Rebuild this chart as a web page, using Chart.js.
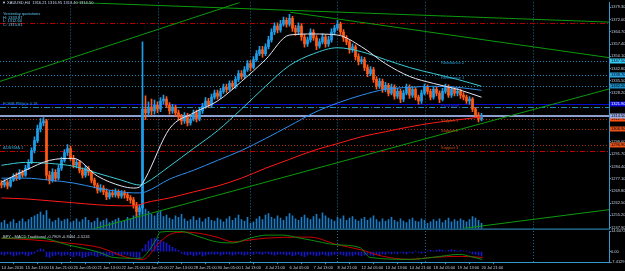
<!DOCTYPE html>
<html><head><meta charset="utf-8">
<script src="https://cdn.jsdelivr.net/npm/chart.js@4.4.1/dist/chart.umd.min.js"></script>
<style>
html,body{margin:0;padding:0;background:#000;overflow:hidden;}
#wrap{position:relative;width:625px;height:271px;background:#000;}
#c1{position:absolute;left:0;top:0;}
#c2{position:absolute;left:0;top:228px;}
</style></head><body>
<div id="wrap"><canvas id="c1" width="625" height="231"></canvas><canvas id="c2" width="625" height="43"></canvas></div>
<script>
// ---------------- DATA ----------------
const firstOpen = 1274.5;
const closes = [
 1273.3,1275.0,1272.7,1276.2,1278.6,1277.4,1280.9,1279.2,1283.3,1286.8,
 1293.9,1299.8,1306.9,1310.4,1311.6,1279.2,1276.2,1280.9,1277.4,1283.3,
 1288.0,1292.7,1295.1,1289.2,1285.1,1286.8,1282.1,1279.2,1283.3,1280.9,
 1276.2,1273.3,1270.3,1271.5,1269.2,1266.2,1268.6,1267.4,1269.2,1266.8,
 1268.6,1267.4,1265.6,1264.4,1261.5,1257.4,1259.7,1318.6,1316.3,1319.8,
 1317.5,1321.0,1318.6,1323.4,1324.5,1321.0,1317.5,1319.8,1316.3,1313.9,
 1311.6,1314.5,1310.4,1312.7,1316.3,1312.7,1317.5,1320.4,1323.4,1321.0,
 1325.7,1328.1,1326.3,1329.2,1331.6,1330.4,1333.9,1332.2,1336.3,1339.8,
 1338.1,1342.2,1345.7,1343.4,1348.1,1351.6,1354.0,1351.6,1355.8,1359.9,
 1364.6,1368.1,1365.8,1369.3,1371.6,1369.3,1372.8,1366.9,1364.6,1368.1,
 1361.6,1357.5,1359.9,1364.6,1361.0,1356.3,1358.7,1361.6,1357.5,1359.9,
 1364.6,1366.9,1369.3,1364.6,1361.0,1358.7,1354.0,1355.8,1349.9,1346.9,
 1348.1,1343.4,1339.8,1342.2,1336.3,1332.2,1335.1,1330.4,1332.8,1328.1,
 1331.6,1326.3,1329.2,1324.5,1328.1,1331.6,1326.9,1330.4,1325.7,1323.4,
 1328.1,1331.6,1329.2,1325.7,1330.4,1328.1,1324.5,1329.2,1331.6,1326.9,
 1330.4,1328.1,1329.2,1326.9,1325.7,1323.4,1324.5,1318.6,1315.1,1312.7,
 1314.5];
const highs = [
 1276.0,1276.5,1276.0,1277.5,1280.0,1280.5,1282.5,1282.0,1285.0,1288.5,
 1295.5,1302.0,1309.0,1313.0,1313.5,1312.5,1281.5,1283.0,1282.5,1285.0,
 1290.0,1294.5,1297.5,1296.5,1291.0,1288.5,1288.0,1283.5,1285.0,1284.5,
 1282.0,1277.5,1274.5,1273.5,1273.0,1271.0,1270.0,1270.5,1271.0,1270.5,
 1270.0,1270.0,1269.0,1267.0,1266.0,1263.0,1261.5,1358.7,1326.5,1323.0,
 1324.5,1324.0,1323.0,1325.5,1327.0,1326.0,1322.5,1321.5,1321.0,1318.0,
 1315.5,1316.5,1316.0,1314.5,1318.0,1318.0,1319.5,1322.0,1325.5,1325.0,
 1327.5,1330.0,1330.0,1331.0,1333.5,1333.5,1335.5,1335.5,1338.0,1341.5,
 1341.5,1344.0,1347.5,1347.5,1350.0,1353.5,1356.0,1356.0,1357.5,1362.0,
 1366.5,1370.0,1370.0,1371.5,1373.5,1373.0,1375.2,1374.0,1368.5,1370.0,
 1369.5,1363.0,1361.5,1366.5,1366.0,1362.5,1360.5,1363.5,1363.0,1362.0,
 1366.5,1368.5,1371.6,1370.5,1366.0,1362.5,1360.0,1357.5,1357.0,1351.5,
 1350.0,1349.5,1345.0,1344.0,1343.5,1338.0,1337.0,1336.5,1334.5,1334.0,
 1333.5,1333.0,1331.0,1330.5,1330.0,1333.5,1333.0,1332.0,1331.5,1327.0,
 1330.0,1333.5,1333.0,1330.5,1332.0,1332.0,1329.5,1331.0,1333.5,1333.0,
 1332.0,1331.5,1331.0,1330.5,1328.5,1327.0,1326.0,1325.5,1319.5,1316.5,
 1316.0];
const lows = [
 1271.5,1272.0,1271.0,1272.0,1275.5,1276.0,1276.5,1278.0,1278.5,1282.5,
 1286.0,1292.5,1298.5,1305.0,1308.5,1276.5,1274.0,1275.0,1275.5,1276.5,
 1282.0,1287.0,1291.0,1288.0,1283.5,1283.5,1280.5,1277.5,1278.0,1279.0,
 1274.5,1271.5,1268.5,1269.0,1267.5,1264.5,1265.0,1266.0,1266.0,1265.5,
 1265.5,1265.5,1264.0,1262.5,1259.5,1254.5,1255.5,1256.0,1312.5,1314.5,
 1315.0,1315.5,1316.5,1317.0,1321.5,1319.5,1315.5,1316.0,1314.5,1312.0,
 1309.5,1310.0,1308.5,1309.0,1311.5,1311.0,1311.5,1316.0,1319.0,1319.5,
 1320.0,1324.5,1324.5,1325.0,1328.0,1328.5,1329.5,1330.5,1331.0,1335.0,
 1336.5,1337.0,1341.0,1341.5,1342.5,1347.0,1350.5,1349.5,1350.5,1354.5,
 1358.5,1363.0,1364.0,1364.5,1368.0,1367.5,1368.0,1365.0,1362.5,1363.0,
 1359.5,1355.5,1356.0,1358.5,1359.5,1354.0,1355.0,1357.5,1355.5,1356.0,
 1358.5,1363.0,1365.5,1363.0,1359.0,1357.0,1352.0,1352.5,1348.0,1345.0,
 1345.5,1341.5,1338.0,1338.5,1334.5,1330.5,1331.0,1328.5,1329.0,1326.5,
 1327.0,1324.5,1325.0,1322.5,1323.0,1327.0,1325.0,1325.5,1324.0,1321.5,
 1322.0,1327.0,1327.5,1324.0,1324.5,1326.5,1322.5,1323.5,1328.0,1325.5,
 1325.5,1326.5,1326.5,1325.0,1324.0,1322.0,1321.5,1317.0,1313.5,1311.0,
 1311.5];
const volumes = [
 800,1100,600,900,1200,700,1000,1300,900,1200,1500,
 1700,1900,2200,1800,2400,1300,900,1100,1400,1000,1200,1300,
 800,1000,1300,900,1200,1500,1100,800,1000,1400,900,1100,
 1300,800,1000,1200,1400,900,1100,1500,1300,1700,2000,2200,
 6600,
 2600,2300,1900,1700,2100,2300,1600,1800,1400,1200,1700,
 1500,1900,1300,1000,1200,1600,1100,1400,900,1300,1500,1100,
 1000,1400,1200,900,1300,1600,1100,1400,1800,1200,1000,1500,
 700,900,1300,1600,1200,1800,2000,1500,1300,1700,1400,1100,
 1600,2000,1700,1300,1100,1500,1800,1400,1200,1600,1900,1300,
 2100,1700,1400,1200,1000,1500,1300,1700,1100,1400,1600,1200,
 1000,1300,1500,1100,1400,1700,1200,900,1300,1000,1200,1500,
 1100,900,1300,1000,800,1200,1400,1000,900,1300,1100,700,
 900,1200,1000,1300,800,1100,1400,900,1200,1000,1300,1100,
 900,1200,1600,1400,1100,700];
// moving averages read at these bar indices
const maIdx  = [0,8,16,24,32,40,44,46,48,56,64,72,80,88,96,104,112,120,128,136,144,152,160];
const maFast = [1275.0,1282.1,1288.0,1289.2,1278.6,1272.7,1271.5,1272.1,1277.4,1306.9,1316.3,1323.4,1335.1,1348.1,1362.8,1363.4,1362.8,1355.8,1345.7,1338.1,1333.9,1330.4,1325.7];
const maMid  = [1285.1,1286.8,1286.2,1284.5,1280.3,1276.2,1273.9,1273.3,1274.5,1284.5,1295.1,1305.7,1318.6,1332.2,1344.6,1351.6,1355.2,1352.8,1348.1,1343.4,1339.8,1336.3,1332.2];
const maSlow = [1277.4,1277.4,1276.2,1274.5,1271.5,1269.2,1268.6,1268.6,1269.2,1276.8,1282.1,1288.0,1293.9,1301.0,1308.6,1316.3,1322.2,1326.9,1330.4,1331.6,1332.2,1331.6,1329.8];
const maLong = [1265.6,1265.0,1263.9,1262.7,1261.5,1260.9,1260.9,1261.5,1262.7,1265.6,1269.2,1272.7,1277.4,1283.3,1288.6,1293.9,1298.0,1302.1,1305.1,1308.0,1310.4,1312.2,1313.9];
// trend lines: [barIndex, price] end points
const trendLines = [
 [[-0.5,1335.1],[79.5,1382.25]],
 [[24.5,1382.25],[202.5,1370.5]],
 [[96.2,1376.4],[202.5,1349.3]],
 [[27.5,1245.6],[202.5,1330.6]],
 [[153.8,1247.4],[202.5,1258.6]]
];
// horizontal levels
const levelPrices = [1369.9,1347.5,1338.7,1332.2,1321.9,1319.8,1312.7,1306.9,1296.9,1293.3];
const levelNames  = ['','Resistance 2','Resistance 1','','Pivot level','FOMB.PM(e)x 0.18','Support 1','Support 2','Support 3','ADBSMA 1'];
// MACD
const histo = [
 -2.0,-2.5,-1.5,-2.0,-3.0,-2.5,-2.0,-1.5,-2.5,-3.0,-2.0,
 -1.0,1.0,2.0,1.5,-3.5,-4.0,-3.0,-2.5,-2.0,-3.0,-2.5,-2.0,
 -3.0,-3.5,-2.5,-3.0,-4.0,-3.5,-3.0,-2.5,-3.0,-3.5,-2.5,-3.0,
 -3.5,-2.5,-3.0,-2.0,-2.5,-3.0,-2.0,-2.5,-3.0,-3.5,-4.0,-4.5,
 2.0,
 5.0,7.5,9.0,9.5,9.0,8.0,7.0,6.0,4.5,3.0,2.0,
 1.0,-1.0,-2.0,-2.5,-2.0,-3.0,-2.5,-2.0,-3.0,-2.5,-2.0,-1.5,
 -2.0,-1.5,-2.5,-2.0,-1.5,-2.0,-2.5,-2.0,-1.5,-2.0,-2.5,-2.0,
 -1.5,-2.0,-1.0,-1.5,-2.0,-1.0,-1.5,-2.0,-2.5,-2.0,-1.5,-2.0,
 -2.5,-2.0,-3.0,-2.5,-2.0,-3.0,-3.5,-2.5,-2.0,-2.5,-3.0,-2.5,
 -2.0,-2.5,-3.0,-2.5,-2.0,-1.5,-2.0,-2.5,-3.0,-2.5,-3.0,-2.0,
 -2.5,-3.0,-2.5,-2.0,-2.5,-3.0,-2.0,-2.5,-1.5,-2.0,-1.0,-1.5,
 -1.0,-1.5,-0.5,-1.0,-1.5,-0.5,-1.0,0.5,-0.5,-1.0,-0.5,0.5,
 1.0,0.5,1.0,1.5,1.0,0.5,1.0,1.5,1.0,0.5,1.0,0.5,
 0.5,-0.5,-1.5,-2.0,-2.5,-3.0];
const macdRedIdx   = [0,10.5,21.8,32.8,41.8,47.2,52.8,57.2,61.8,71.8,77.2,82.8,88.5,99.5,102.8,111.8,119.5,127.2,136.2,143.8,152.8,160.5];
const macdRed      = [9.6,8.3,6.2,2.9,-4.0,-5.4,6.9,13.1,13.8,10.3,6.9,8.3,9.6,10.3,10.3,5.0,1.5,-3.3,-5.4,-4.0,-3.3,-4.0];
const macdGreenIdx = [0,12.8,21.8,32.8,37.2,46.2,47.2,51.8,52.8,59.5,66.2,71.8,77.2,82.8,88.5,93.8,99.5,102.8,111.2,119.5,122.8,136.2,143.8,152.8,156.2,160.2];
const macdGreen    = [9.6,9.6,5.0,-0.6,-4.0,-4.7,-4.0,9.6,13.8,14.4,10.3,6.9,6.2,9.6,11.7,11.7,9.6,8.3,5.0,2.9,-4.0,-5.4,-4.0,-1.9,-3.3,-5.4];
// axes
const priceTicks = [1379.30,1372.00,1364.70,1357.40,1350.10,1342.80,1335.50,1328.20,1320.90,1313.60,1306.30,1299.00,1291.70,1284.40,1277.10,1269.80,1262.50,1255.20,1247.90];
const macdTicks = [14.6072,0,-7.4129];
const xLabelIdx = [0,8,16,24,32,40,48,56,64,72,80,88,96,104,112,120,128,136,144,152,160];
const xLabels = ['14 Jun 2016','15 Jun 13:00','16 Jun 21:00','20 Jun 05:00','21 Jun 13:00','22 Jun 21:00','24 Jun 05:00','27 Jun 13:00','28 Jun 21:00','30 Jun 05:00','1 Jul 13:00','4 Jul 21:00','6 Jul 05:00','7 Jul 13:00','8 Jul 21:00','12 Jul 05:00','13 Jul 13:00','14 Jul 21:00','18 Jul 05:00','19 Jul 13:00','20 Jul 21:00'];
const sepIdx = [22.8,52.2,82.8,111.8,141.2,177.2];
const headerTexts = ['\u25BC XAUUSD,H4  1316.21 1316.95 1313.40 1314.50','Yesterday quotations','H: 1333.87','L: 1312.60','C: 1315.81'];
const macdTitle = 'BPY - MACD Traditional -0.7909 -0.8464 -1.5241';

// ---------------- BUILD ----------------
const FONT = '"Liberation Sans", "DejaVu Sans", sans-serif';
const AXIS = '#3399CC';
const TXT = '#C4CCDA';
const opens = closes.map((c,i)=> i===0 ? firstOpen : closes[i-1]);
const candleCols = closes.map((c,i)=> c>=opens[i] ? '#1E9EEA' : '#FF5A16');
const lastPrice = closes[closes.length-1];

const levelStyle = [
 {c:'#B00000', dash:[5,2,1,2]},
 {c:'#1E88B8', dash:[1,2], box:'#36C8F4', bt:'#000', lab:'mid', lc:'#2CA2D6'},
 {c:'#1E88B8', dash:[1,2], box:'#2AA2E2', bt:'#000', lab:'mid', lc:'#2CA2D6'},
 {c:'#1E88B8', dash:[1,2], box:'#1A8AC2', bt:'#000'},
 {c:'#0A0AD0', dash:[], box:'#0C0CE0', bt:'#FFF', lab:'mid', lc:'#2A2AF0'},
 {c:'#1E88B8', dash:[6,2,1,2], lab:'left', lc:'#2CA2D6'},
 {c:'#A8300C', dash:[1,2], box:'#FF5212', bt:'#000', lab:'mid', lc:'#C84C16'},
 {c:'#A8300C', dash:[1,2], box:'#E8521A', bt:'#000', lab:'mid', lc:'#C84C16'},
 {c:'#A8300C', dash:[1,2], box:'#E8521A', bt:'#000', lab:'mid', lc:'#C84C16'},
 {c:'#C00000', dash:[5,2,1,2], lab:'left', lc:'#2CA2D6'}
];

const sepPlugin = {
  id:'seps',
  beforeDatasetsDraw(chart){
    const {ctx, chartArea:a} = chart; const x = chart.scales.x;
    ctx.save(); ctx.strokeStyle='#1C6E96'; ctx.lineWidth=1; ctx.setLineDash([1,2]);
    sepIdx.forEach(v=>{const px=Math.round(x.getPixelForValue(v))+0.5; ctx.beginPath(); ctx.moveTo(px,a.top); ctx.lineTo(px,a.bottom); ctx.stroke();});
    ctx.restore();
  }
};

function hline(ctx, a, y, color, dash, w){
  ctx.save(); ctx.strokeStyle=color; ctx.lineWidth=w||1; ctx.setLineDash(dash||[]);
  const py = (w===2) ? Math.round(y) : Math.round(y)+0.5;
  ctx.beginPath(); ctx.moveTo(a.left,py); ctx.lineTo(a.right,py); ctx.stroke(); ctx.restore();
}
function rbox(ctx, a, y, bg, fg, text){
  ctx.save(); ctx.fillStyle=bg; ctx.fillRect(a.right+1, Math.round(y)-2.5, 625-a.right-1, 5);
  ctx.fillStyle=fg; ctx.font='4px '+FONT; ctx.textBaseline='middle'; ctx.textAlign='left';
  ctx.fillText(text, a.right+2, Math.round(y)); ctx.restore();
}

const levelPlugin = {
  id:'levels',
  beforeDatasetsDraw(chart){
    const {ctx, chartArea:a} = chart; const y = chart.scales.y;
    levelPrices.forEach((p,i)=>{ const s=levelStyle[i]; hline(ctx,a,y.getPixelForValue(p),s.c,s.dash,1); });
    hline(ctx,a,y.getPixelForValue(lastPrice),'#8E9ECE',[],2);
    ctx.save(); ctx.strokeStyle=AXIS; ctx.lineWidth=1; ctx.beginPath(); ctx.moveTo(0,a.bottom+0.5); ctx.lineTo(a.right+1,a.bottom+0.5); ctx.stroke(); ctx.restore();
  },
  afterDatasetsDraw(chart){
    const {ctx, chartArea:a} = chart; const y = chart.scales.y; const x = chart.scales.x;
    ctx.save(); ctx.font='4px '+FONT; ctx.textBaseline='middle'; ctx.textAlign='left';
    levelPrices.forEach((p,i)=>{
      const s=levelStyle[i]; if(!s.lab || !levelNames[i]) return;
      const py=y.getPixelForValue(p);
      ctx.fillStyle=s.lc;
      if(s.lab==='mid') ctx.fillText(levelNames[i], x.getPixelForValue(146.5), py+2);
      else ctx.fillText(levelNames[i], 3, py-3.5);
    });
    const hp=[{x:2,y:3,c:'#C8D8F0'},{x:3,y:14,c:'#5CC6F0'},{x:3,y:17.5,c:'#5CC6F0'},{x:3,y:21,c:'#5CC6F0'},{x:3,y:24.5,c:'#5CC6F0'}];
    headerTexts.forEach((t,i)=>{ctx.fillStyle=hp[i].c; ctx.fillText(t,hp[i].x,hp[i].y);});
    ctx.restore();
  },
  afterDraw(chart){
    const {ctx, chartArea:a} = chart; const y = chart.scales.y;
    levelPrices.forEach((p,i)=>{ const s=levelStyle[i]; if(s.box) rbox(ctx,a,y.getPixelForValue(p),s.box,s.bt,p.toFixed(2)); });
    rbox(ctx,a,y.getPixelForValue(lastPrice),'#9AAAE0','#000',lastPrice.toFixed(2));
  }
};

const macdTitlePlugin = {
  id:'mt',
  afterDatasetsDraw(chart){
    const {ctx, chartArea:a} = chart;
    ctx.save(); ctx.font='4px '+FONT; ctx.textBaseline='middle'; ctx.textAlign='left'; ctx.fillStyle='#C8D0DE';
    ctx.fillText(macdTitle, 3, a.top+6); ctx.restore();
  }
};

const xBase = {type:'linear', min:-0.5, max:202.5, offset:false};
const yRight = (min,max,ticks,fmt)=>({
  position:'right', min:min, max:max,
  afterFit(s){ s.width = 16; },
  afterBuildTicks(s){ s.ticks = ticks.map(v=>({value:v})); },
  ticks:{ color:TXT, font:{size:4, family:FONT}, padding:0, callback:fmt, autoSkip:false },
  grid:{ drawOnChartArea:false, drawTicks:true, tickLength:2, color:AXIS },
  border:{ display:true, color:AXIS }
});

const lineDs = (idx, vals, color, ord, w) => ({
  type:'line', data: idx.map((v,i)=>({x:v, y:vals[i]})), borderColor:color, borderWidth:w||1,
  pointRadius:0, fill:false, cubicInterpolationMode:'monotone', order:ord, yAxisID:'y'
});

const mainDatasets = [
  {type:'bar', data: closes.map((c,i)=>({x:i, y:[lows[i], highs[i]]})), backgroundColor:candleCols, barThickness:1, grouped:false, order:6, yAxisID:'y'},
  {type:'bar', data: closes.map((c,i)=>({x:i, y:[opens[i], c]})), backgroundColor:candleCols, barThickness:2, minBarLength:1, grouped:false, order:5, yAxisID:'y'},
  {type:'bar', data: volumes.map((v,i)=>({x:i, y:v})), backgroundColor:'#1A7CC6', barThickness:1, grouped:false, order:9, yAxisID:'yv'},
  lineDs(maIdx, maLong, '#FF1A1A', 4),
  lineDs(maIdx, maSlow, '#2E8EF0', 3),
  lineDs(maIdx, maMid, '#3CCCD8', 2),
  lineDs(maIdx, maFast, '#E6E6F6', 1)
];
trendLines.forEach(t=>{
  mainDatasets.push({type:'line', data:t.map(p=>({x:p[0], y:p[1]})), borderColor:'#0C9A0C', borderWidth:1, pointRadius:0, order:0, yAxisID:'y'});
});

new Chart(document.getElementById('c1'), {
  type:'bar',
  data:{ datasets: mainDatasets },
  options:{
    responsive:false, animation:false, devicePixelRatio:1,
    layout:{ padding:{top:0,left:0,right:0,bottom:2}, autoPadding:false },
    plugins:{ legend:{display:false}, tooltip:{enabled:false} },
    scales:{
      x: Object.assign({}, xBase, {display:false}),
      y: yRight(1247.3, 1382.25, priceTicks, v=>Number(v).toFixed(2)),
      yv:{ display:false, min:0, max:30000 }
    }
  },
  plugins:[sepPlugin, levelPlugin]
});

new Chart(document.getElementById('c2'), {
  type:'bar',
  data:{ datasets:[
    {type:'line', data: macdGreenIdx.map((v,i)=>({x:v, y:macdGreen[i]})), borderColor:'#0E8C0E', borderWidth:1, pointRadius:0, cubicInterpolationMode:'monotone', order:0},
    {type:'line', data: macdRedIdx.map((v,i)=>({x:v, y:macdRed[i]})), borderColor:'#C80000', borderWidth:1, pointRadius:0, cubicInterpolationMode:'monotone', order:1},
    {type:'bar', data: histo.map((v,i)=>({x:i, y:v})), backgroundColor:'#1818C8', barThickness:1, grouped:false, order:2}
  ]},
  options:{
    responsive:false, animation:false, devicePixelRatio:1,
    layout:{ padding:{top:3,left:0,right:0,bottom:0}, autoPadding:false },
    plugins:{ legend:{display:false}, tooltip:{enabled:false} },
    scales:{
      x: Object.assign({}, xBase, {
        position:'bottom',
        afterBuildTicks(s){ s.ticks = xLabelIdx.map(v=>({value:v})); },
        ticks:{ color:TXT, font:{size:4, family:FONT}, padding:1, align:'start', maxRotation:0, autoSkip:false,
          callback:(v)=>{ const k=xLabelIdx.indexOf(v); return k>=0 ? xLabels[k] : ''; } },
        grid:{ drawOnChartArea:false, drawTicks:true, tickLength:2, color:AXIS },
        border:{ display:true, color:AXIS }
      }),
      y: yRight(-7.4129, 14.6072, macdTicks, v=> v===0 ? '0.00' : Number(v).toFixed(4))
    }
  },
  plugins:[sepPlugin, macdTitlePlugin]
});
</script></body></html>
